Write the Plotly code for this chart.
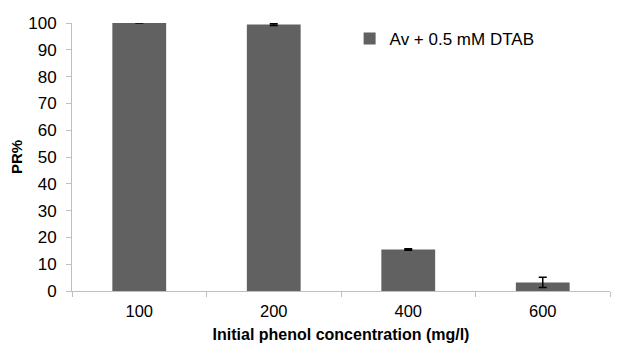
import plotly.graph_objects as go

categories = ["100", "200", "400", "600"]
pr_values = [100.0, 99.4, 15.5, 3.2]
pr_errors = [0.0, 0.3, 0.3, 1.9]
series_name = "Av + 0.5 mM DTAB"

FONT = "Liberation Sans, Arial, sans-serif"

fig = go.Figure()
fig.add_trace(go.Bar(
    x=categories, y=pr_values, name=series_name,
    marker=dict(color="#616161", line=dict(width=0)),
    error_y=dict(type="data", array=pr_errors, color="black", thickness=1.5, width=4, visible=True),
    showlegend=True,
))

fig.update_layout(
    width=617, height=338,
    margin=dict(l=64, r=15, t=15, b=55, autoexpand=False),
    paper_bgcolor="white", plot_bgcolor="white",
    bargap=0.6,
    font=dict(family=FONT, size=16, color="black"),
    showlegend=True,
    legend=dict(x=0.516, y=1.0075, xanchor="left", yanchor="top", bgcolor="rgba(0,0,0,0)",
                font=dict(family=FONT, size=17, color="black"), itemwidth=30),
    xaxis=dict(
        type="category", showline=True, linecolor="#bfbfbf", linewidth=1,
        ticks="outside", tickson="boundaries", ticklen=5, tickcolor="#bfbfbf",
        showgrid=False, ticklabelstandoff=5, tickfont=dict(family=FONT, size=16.5),
        automargin=False,
        title=dict(text="<b>Initial phenol concentration (mg/l)</b>", standoff=10,
                   font=dict(family=FONT, size=16)),
    ),
    yaxis=dict(
        range=[0, 100], dtick=10, showline=True, linecolor="#bfbfbf", linewidth=1,
        ticks="outside", ticklen=5, tickcolor="#bfbfbf", showgrid=False, zeroline=False,
        ticklabelstandoff=6, tickfont=dict(family=FONT, size=17), automargin=False,
        title=dict(text="<b>PR%</b>", standoff=1, font=dict(family=FONT, size=15)),
    ),
)
fig.write_html("out.html")
